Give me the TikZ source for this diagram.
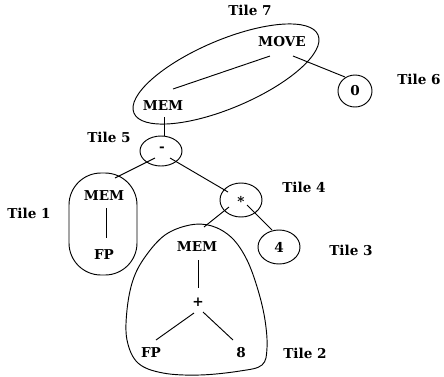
\documentclass[tikz,border=0pt]{standalone}
\usepackage{fontspec}
\setmainfont{DejaVu Serif}
\usepackage{tikz}
\usetikzlibrary{calc}

\begin{document}
\begin{tikzpicture}[x=0.75pt, y=-0.75pt, line width=0.7pt, % one unit is one pixel, y runs down
	lbl/.style={font=\bfseries\fontsize{10.2}{12}\selectfont, inner sep=0pt},
	tilelbl/.style={lbl}]
	\useasboundingbox (0,0) rectangle (444,376);
	
	% Tree nodes
	\node[lbl] (move) at (282,42) {MOVE};
	\node[lbl] (memT) at (163,106) {MEM};
	\node[lbl] (zero) at (355,91) {0};
	\node[lbl] (minus) at (162,149) {-};
	\node[lbl] (memA) at (104,196) {MEM};
	\node[lbl] (fpA) at (104,255) {FP};
	\node[lbl] (star) at (241,201) {*};
	\node[lbl] (four) at (279,247) {4};
	\node[lbl] (memB) at (197,247) {MEM};
	\node[lbl] (plus) at (198,302) {+};
	\node[lbl] (fpB) at (151,353) {FP};
	\node[lbl] (eight) at (241,353) {8};
	
	% Tile names
	\node[tilelbl] (tileG) at (250,10) {Tile 7};
	\node[tilelbl] (tileF) at (419,79) {Tile 6};
	\node[tilelbl] (tileE) at (109,137) {Tile 5};
	\node[tilelbl] (tileD) at (304,187) {Tile 4};
	\node[tilelbl] (tileC) at (351,250) {Tile 3};
	\node[tilelbl] (tileA) at (29,213) {Tile 1};
	\node[tilelbl] (tileB) at (305,353) {Tile 2};
	
	% Edges of the tree
	\draw ([shift={(10,-17)}]memT.center) -- ([shift={(-12,14)}]move.center);
	\draw ([shift={(11,14)}]move.center) -- ([shift={(-10,-14)}]zero.center);
	\draw ([shift={(1,11)}]memT.center) -- ([shift={(2,-13)}]minus.center);
	\draw ([shift={(-7,9)}]minus.center) -- ([shift={(11,-18)}]memA.center);
	\draw ([shift={(8,9)}]minus.center) -- ([shift={(-13,-9)}]star.center);
	\draw ([shift={(-12,6)}]star.center) -- ([shift={(7,-20)}]memB.center);
	\draw ([shift={(6,4)}]star.center) -- ([shift={(-7,-17)}]four.center);
	\draw ([shift={(2,12)}]memA.center) -- ([shift={(2,-17)}]fpA.center);
	\draw ([shift={(1,13)}]memB.center) -- ([shift={(0,-14)}]plus.center);
	\draw ([shift={(-4,11)}]plus.center) -- ([shift={(5,-13)}]fpB.center);
	\draw ([shift={(5,10)}]plus.center) -- ([shift={(-8,-13)}]eight.center);
	
	% Single-node tiles
	\draw (zero) ellipse [x radius=17, y radius=16];
	\draw (161,151) ellipse [x radius=21, y radius=15];
	\draw (241,200) ellipse [x radius=21, y radius=17];
	\draw (four) ellipse [x radius=21, y radius=17];
	
	% Tile 7, tilted ellipse round MOVE and MEM
	\draw[rotate around={23:(226,74)}] (226,74) ellipse [x radius=100, y radius=34];
	
	% Tile 1
	\draw[rounded corners=24pt] (69,173) rectangle (137,275);
	
	% Tile 2
	\draw plot[smooth cycle, tension=0.6] coordinates {
		(190,225) (212,226) (232,238) (247,260) (258,290) (265,320) (267,348)
		(262,365) (240,371) (200,375) (163,373) (138,363) (127,340) (127,310)
		(133,280) (145,257) (165,235)};
\end{tikzpicture}
\end{document}
